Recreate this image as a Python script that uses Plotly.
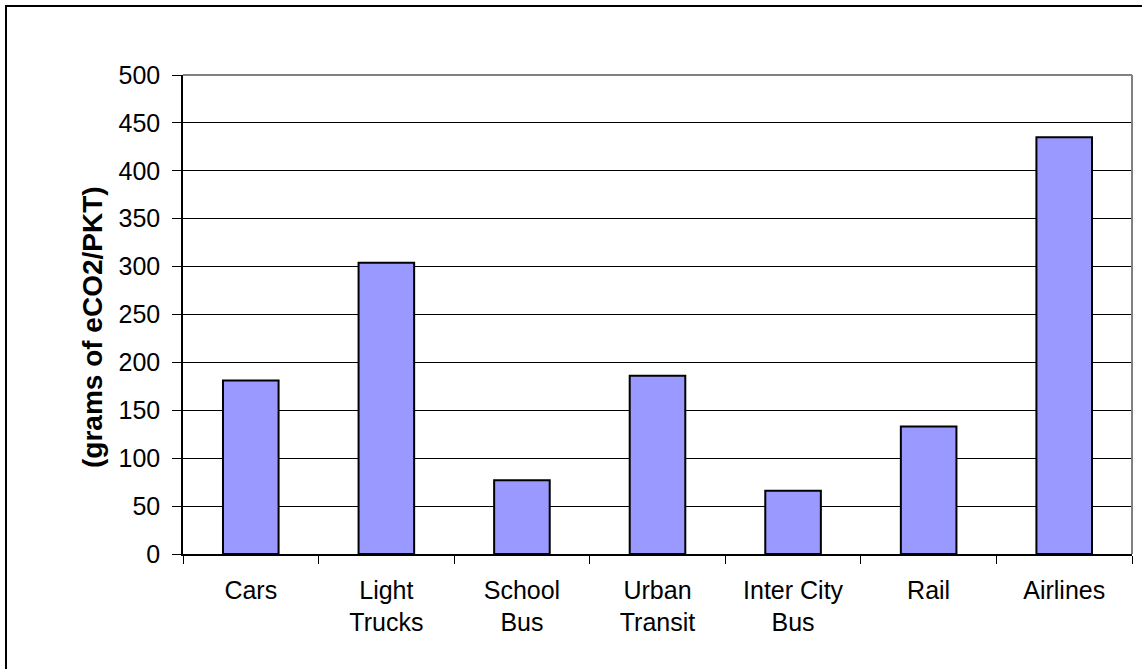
import plotly.graph_objects as go

# Emissions per passenger-kilometre by transport mode
modes = ["Cars", "Light<br>Trucks", "School<br>Bus", "Urban<br>Transit",
         "Inter City<br>Bus", "Rail", "Airlines"]
grams_eco2_per_pkt = [181, 304, 77, 186, 66, 133, 435]
y_ticks = [0, 50, 100, 150, 200, 250, 300, 350, 400, 450, 500]
y_title = "(grams of eCO2/PKT)"

W, H = 1142, 669
L, R, T, B = 183, 10, 75, 115
pw = W - L - R
ph = H - T - B

font_family = "Liberation Sans, Arial, sans-serif"

fig = go.Figure(
    go.Bar(
        x=modes,
        y=grams_eco2_per_pkt,
        marker=dict(color="#9999FF", line=dict(color="#000000", width=2)),
        width=0.41,
        hoverinfo="x+y",
    )
)

# pixel -> paper helpers for frame and title placement
def px_x(p):
    return (p - L) / pw

def px_y(p):
    return 1 - (p - T) / ph

fig.update_layout(
    width=W,
    height=H,
    margin=dict(l=L, r=R, t=T, b=B),
    paper_bgcolor="white",
    plot_bgcolor="white",
    showlegend=False,
    font=dict(family=font_family, size=25, color="#000000"),
    xaxis=dict(
        type="category",
        showline=True,
        linecolor="#000000",
        linewidth=1.5,
        ticks="outside",
        tickson="boundaries",
        ticklen=8,
        tickcolor="#000000",
        tickwidth=1,
        showgrid=False,
        tickfont=dict(size=25),
        ticklabelstandoff=13,
    ),
    yaxis=dict(
        range=[0, 500],
        tickvals=y_ticks,
        showline=True,
        linecolor="#000000",
        linewidth=1.5,
        ticks="outside",
        ticklen=9,
        tickcolor="#000000",
        tickwidth=1,
        showgrid=True,
        gridcolor="#000000",
        gridwidth=1,
        zeroline=False,
        tickfont=dict(size=25),
        ticklabelstandoff=7,
    ),
    annotations=[
        dict(text=y_title, textangle=-90, showarrow=False,
             xref="paper", yref="paper", x=px_x(92), y=px_y(327),
             xanchor="center", yanchor="middle",
             font=dict(size=28, family=font_family, weight="bold")),
    ],
    shapes=[
        # grey plot-area border on top and right
        dict(type="line", xref="paper", yref="paper", x0=0, x1=1, y0=1, y1=1,
             line=dict(color="#808080", width=2), layer="above"),
        dict(type="line", xref="paper", yref="paper", x0=1, x1=1, y0=0, y1=1,
             line=dict(color="#808080", width=2), layer="above"),
        # outer chart frame
        dict(type="rect", xref="paper", yref="paper",
             x0=px_x(6), x1=px_x(W + 20), y0=px_y(H + 20), y1=px_y(6),
             line=dict(color="#000000", width=2), fillcolor="rgba(0,0,0,0)",
             layer="above"),
    ],
)

fig.write_html("out.html")
